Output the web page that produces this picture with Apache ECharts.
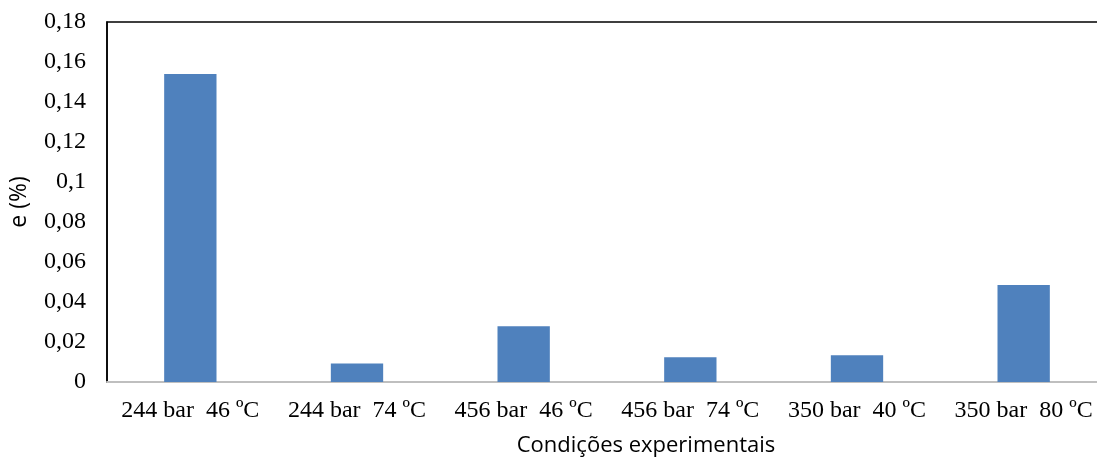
<!DOCTYPE html>
<html>
<head>
<meta charset="utf-8">
<script src="https://cdn.jsdelivr.net/npm/echarts@6/dist/echarts.min.js"></script>
<style>
  html, body { margin: 0; padding: 0; background: #fff; }
  #chart { width: 1097px; height: 459px; }
</style>
</head>
<body>
<div id="chart"></div>
<script>
// Experimental conditions (pressure / temperature)
const categories = ['244 bar  46 ºC', '244 bar  74 ºC', '456 bar  46 ºC', '456 bar  74 ºC', '350 bar  40 ºC', '350 bar  80 ºC'];
// Relative deviation e (%)
const values = [0.154, 0.0092, 0.0279, 0.0124, 0.0134, 0.0485];
const yTicks = { min: 0, max: 0.18, step: 0.02 };

const serif = '"Liberation Serif", "Times New Roman", serif';
const sans = '"Open Sans", "Noto Sans", sans-serif';

const chart = echarts.init(document.getElementById('chart'), null, { renderer: 'canvas' });
chart.setOption({
  animation: false,
  backgroundColor: '#ffffff',
  title: {
    text: 'Condições experimentais',
    left: 646,
    top: 435,
    textAlign: 'center',
    padding: 0,
    textStyle: { fontFamily: sans, fontSize: 22, fontWeight: 'normal', color: '#000' }
  },
  grid: {
    left: 107, top: 22, width: 1000, height: 360,
    outerBoundsMode: 'none',
    containLabel: false,
    show: true, borderColor: '#000', borderWidth: 1.5, backgroundColor: 'transparent'
  },
  xAxis: {
    type: 'category',
    data: categories,
    axisLine: { lineStyle: { color: '#bfbfbf', width: 2 } },
    axisTick: { show: false },
    axisLabel: { fontFamily: serif, fontSize: 24, color: '#000', margin: 17, interval: 0 }
  },
  yAxis: {
    type: 'value',
    min: yTicks.min, max: yTicks.max, interval: yTicks.step,
    name: 'e (%)',
    nameLocation: 'middle',
    nameGap: 76,
    nameRotate: 90,
    nameTextStyle: { fontFamily: sans, fontSize: 23, color: '#000' },
    axisLine: { show: true, lineStyle: { color: '#000', width: 1.5 } },
    axisTick: { show: false },
    splitLine: { show: false },
    axisLabel: {
      fontFamily: serif, fontSize: 24, color: '#000', margin: 21,
      formatter: v => (Math.round(v * 100) / 100).toString().replace('.', ',')
    }
  },
  series: [{
    type: 'bar',
    data: values,
    barWidth: '31.4%',
    itemStyle: { color: '#4f81bd' }
  }]
});
</script>
</body>
</html>
